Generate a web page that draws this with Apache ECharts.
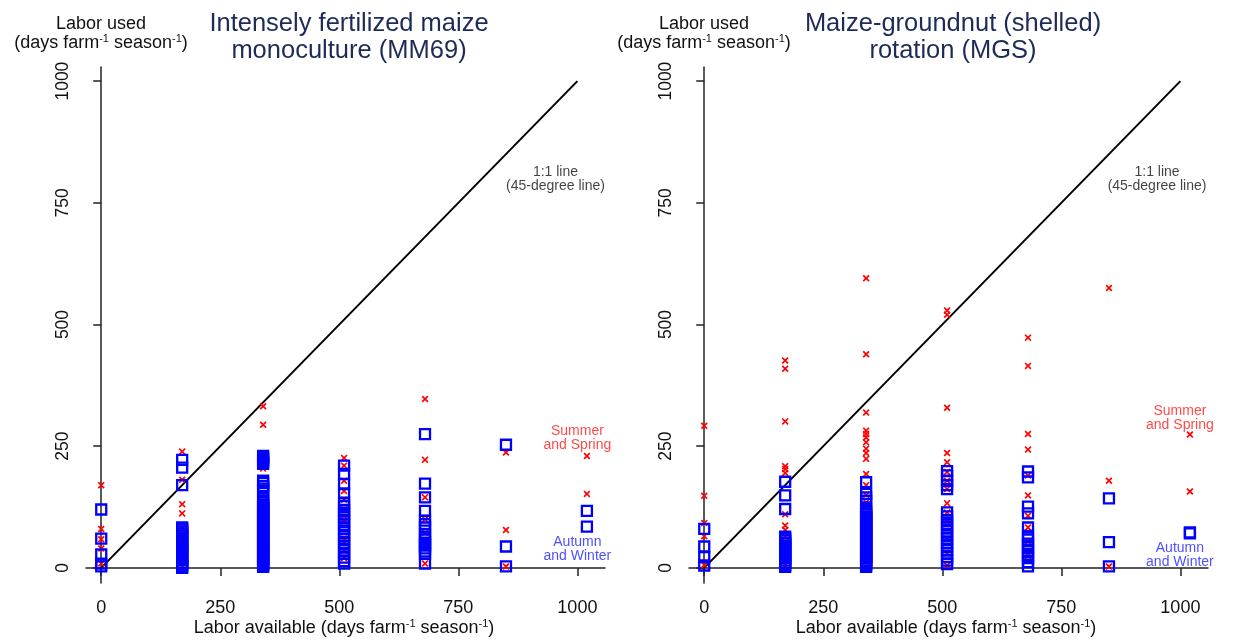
<!DOCTYPE html>
<html>
<head>
<meta charset="utf-8">
<script src="https://cdn.jsdelivr.net/npm/echarts@6/dist/echarts.min.js"></script>
<style>
  html, body { margin: 0; padding: 0; background: #fff; }
  #chart { width: 1239px; height: 641px; }
</style>
</head>
<body>
<div id="chart"></div>
<script>
// labor available (x positions of the columns)
const labor = [0, 170, 340, 510, 680, 850, 1020];
const ticks = [0, 250, 500, 750, 1000];

// MM69 - labor used per column
const mmSummer = [
  [170, 80, 59, 40, 9],
  [239, 181, 131, 112, 81, 58, 35, 15, 2],
  [332, 294, 228, 212, 204, 115, 100, 85],
  [226, 210, 179, 158, 140, 120, 100, 95, 60, 52, 35, 20],
  [347, 222, 145, 100, 72, 50, 9],
  [237, 78, 3],
  [230, 152]
];
const mmAutumn = [
  [120, 60, 28, 9, 3],
  [222, 206, 170, 83, 79, 75, 71, 67, 62, 57, 52, 47, 43, 39, 35, 31, 26, 21, 16, 11, 7, 3, 0],
  [230, 226, 222, 218, 214, 179, 174, 168, 163, 158, 145, 138, 134, 130, 127, 124, 120, 117, 114, 110, 107, 104, 100, 97, 94, 90, 87, 84, 80, 77, 74, 70, 67, 64, 60, 57, 54, 50, 47, 44, 40, 37, 34, 30, 27, 24, 20, 17, 14, 10, 7, 4, 2],
  [210, 193, 172, 153, 134, 127, 119, 111, 104, 96, 89, 81, 74, 66, 59, 51, 44, 36, 29, 21, 14, 9],
  [275, 173, 145, 117, 97, 90, 83, 70, 64, 58, 52, 46, 40, 34, 29, 9],
  [253, 44, 3],
  [117, 85]
];

// MGS - labor used per column
const mgsSummer = [
  [292, 148, 92, 65, 6],
  [426, 409, 301, 209, 203, 195, 110, 87, 78, 64, 45, 30, 5],
  [595, 439, 319, 282, 275, 268, 258, 245, 236, 224, 193, 170, 150, 135, 100, 80, 55],
  [529, 520, 329, 236, 217, 197, 179, 162, 133, 114, 95, 60, 30, 5],
  [473, 415, 275, 243, 190, 149, 107, 83, 55, 25],
  [575, 179, 3],
  [274, 157]
];
const mgsAutumn = [
  [80, 44, 22, 5],
  [177, 149, 121, 64, 60, 56, 51, 46, 42, 38, 33, 28, 24, 20, 15, 10, 6, 2],
  [176, 152, 145, 138, 121, 117, 113, 110, 106, 103, 99, 96, 92, 89, 85, 82, 78, 75, 71, 68, 64, 61, 57, 54, 50, 47, 43, 40, 36, 33, 29, 26, 22, 19, 15, 12, 8, 5, 2],
  [199, 190, 179, 170, 162, 114, 106, 98, 90, 83, 75, 68, 60, 52, 45, 37, 30, 22, 15, 8],
  [198, 186, 126, 112, 83, 66, 58, 50, 43, 35, 27, 20, 12, 3],
  [143, 53, 3],
  [73, 71]
];

const oneToOne = [[0, 0], [1000, 1000]];

// annotation positions (data units)
const mmNotes = [
  { name: '1:1 line\n(45-degree line)', value: [954, 798], color: '#111' },
  { name: 'Summer\nand Spring', value: [1000, 267], color: '#ff1a1a' },
  { name: 'Autumn\nand Winter', value: [1000, 38], color: '#2323ff' }
];
const mgsNotes = [
  { name: '1:1 line\n(45-degree line)', value: [951, 798], color: '#111' },
  { name: 'Summer\nand Spring', value: [999, 307], color: '#ff1a1a' },
  { name: 'Autumn\nand Winter', value: [999, 27], color: '#2323ff' }
];

const FONT = '"Liberation Sans", Arial, sans-serif';
const RED = '#ff0000';
const BLUE = '#0000ff';
const XMARK = 'path://M0,1.7 L1.7,0 L5,3.3 L8.3,0 L10,1.7 L6.7,5 L10,8.3 L8.3,10 L5,6.7 L1.7,10 L0,8.3 L3.3,5 Z';

function pairs(cols) {
  const out = [];
  cols.forEach((ys, i) => ys.forEach(y => out.push([labor[i], y])));
  return out;
}

function xAxis(idx) {
  return {
    gridIndex: idx, type: 'value', min: -32, max: 1058,
    axisLine: { lineStyle: { color: '#222', width: 1.5 } },
    axisTick: { length: 8, customValues: ticks, lineStyle: { color: '#222', width: 1.5 } },
    axisLabel: { customValues: ticks, formatter: v => String(v), color: '#111', fontSize: 18, fontFamily: FONT, margin: 16 },
    splitLine: { show: false }
  };
}
function yAxis(idx) {
  return {
    gridIndex: idx, type: 'value', min: -31, max: 1029,
    axisLine: { show: true, lineStyle: { color: '#222', width: 1.5 } },
    axisTick: { show: true, length: 8, customValues: ticks, lineStyle: { color: '#222', width: 1.5 } },
    axisLabel: { customValues: ticks, formatter: v => String(v), rotate: 90, color: '#111', fontSize: 17.5, fontFamily: FONT, margin: 14 },
    splitLine: { show: false }
  };
}

function panelSeries(idx, summer, autumn, notes) {
  return [
    {
      type: 'line', xAxisIndex: idx, yAxisIndex: idx, data: oneToOne,
      symbol: 'none', lineStyle: { color: '#000', width: 2 }, silent: true, z: 1
    },
    {
      type: 'scatter', xAxisIndex: idx, yAxisIndex: idx, data: pairs(summer),
      symbol: XMARK, symbolSize: 7, itemStyle: { color: RED, opacity: 1 }, z: 2
    },
    {
      type: 'scatter', xAxisIndex: idx, yAxisIndex: idx, data: pairs(autumn),
      symbol: 'rect', symbolSize: 10,
      itemStyle: { color: 'rgba(255,255,255,0)', borderColor: BLUE, borderWidth: 2.3, opacity: 1 }, z: 3
    },
    {
      type: 'scatter', xAxisIndex: idx, yAxisIndex: idx, symbolSize: 0, silent: true, z: 4,
      data: notes.map(n => ({
        name: n.name, value: n.value,
        label: { show: true, position: 'inside', formatter: '{b}', color: n.color,
                 fontSize: 14, lineHeight: 14, fontFamily: FONT, align: 'center' }
      }))
    }
  ];
}

const richSup = size => ({
  n: { fontSize: size, fontFamily: FONT, fill: '#111', lineHeight: size + 2 },
  s: { fontSize: Math.round(size * 0.6), fontFamily: FONT, fill: '#111', lineHeight: size + 2, verticalAlign: 'top' }
});

function label(text, x, y, size, rich) {
  return {
    type: 'text', x: x, y: y, silent: true,
    style: { text: text, rich: rich ? richSup(size) : undefined, fontSize: size, fontFamily: FONT,
             fill: '#111', align: 'center', verticalAlign: 'middle' }
  };
}

const yName1 = 'Labor used';
const yName2 = '{n|(days farm}{s|-1}{n| season}{s|-1}{n|)}';
const xName = '{n|Labor available (days farm}{s|-1}{n| season}{s|-1}{n|)}';

const titleStyle = { fontSize: 25.5, lineHeight: 27, fontWeight: 'normal', color: '#1e2b57', fontFamily: FONT };

const chart = echarts.init(document.getElementById('chart'));
chart.setOption({
  animation: false,
  backgroundColor: '#fff',
  title: [
    { text: 'Intensely fertilized maize\nmonoculture (MM69)', left: 344, top: 5, textAlign: 'center', textStyle: titleStyle },
    { text: 'Maize-groundnut (shelled)\nrotation (MGS)', left: 948, top: 5, textAlign: 'center', textStyle: titleStyle }
  ],
  grid: [
    { left: 86, top: 67, width: 519, height: 516 },
    { left: 689, top: 67, width: 519, height: 516 }
  ],
  xAxis: [xAxis(0), xAxis(1)],
  yAxis: [yAxis(0), yAxis(1)],
  graphic: [
    label(yName1, 101, 24, 18, false),
    label(yName2, 101, 43, 18, true),
    label(yName1, 704, 24, 18, false),
    label(yName2, 704, 43, 18, true),
    label(xName, 344, 628, 18, true),
    label(xName, 946, 628, 18, true)
  ],
  series: [].concat(
    panelSeries(0, mmSummer, mmAutumn, mmNotes),
    panelSeries(1, mgsSummer, mgsAutumn, mgsNotes)
  )
});
</script>
</body>
</html>
